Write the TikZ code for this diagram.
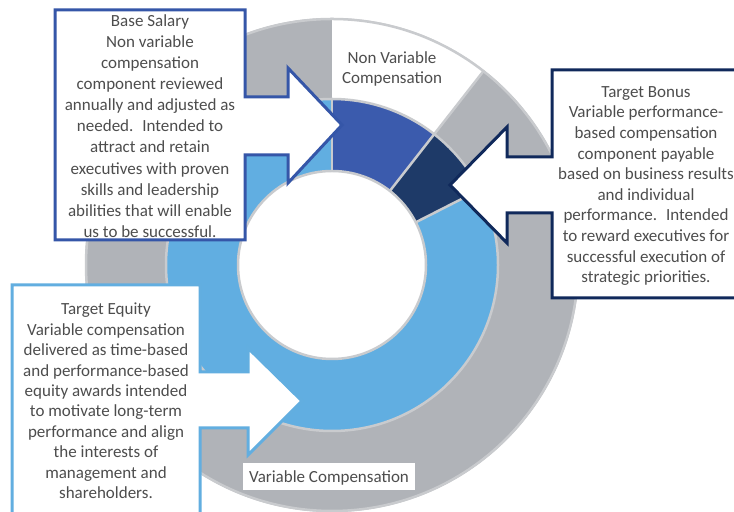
\documentclass[tikz,border=0pt]{standalone}
\usepackage{fontspec}
\setmainfont{Carlito}
\usetikzlibrary{calc}
\definecolor{ringgrey}{HTML}{B0B3B8}
\definecolor{edgegrey}{HTML}{C9CBCE}
\definecolor{lblue}{HTML}{61AEE1}
\definecolor{rblue}{HTML}{3B5BAD}
\definecolor{navyblue}{HTML}{1E3A68}
\definecolor{txtgrey}{HTML}{4D4D4D}
\definecolor{bsline}{HTML}{3556A8}
\definecolor{tbline}{HTML}{10295B}
\definecolor{teline}{HTML}{62AEE0}
\newcommand{\annsec}[5]{\path[#1] ($(C)+(#4:#3)$) arc[start angle=#4, end angle=#5, radius=#3] -- ($(C)+(#5:#2)$) arc[start angle=#5, end angle=#4, radius=#2] -- cycle;}
\tikzset{
  edge/.style={draw=edgegrey, line width=2.5bp},
  callout/.style={fill=white, line width=3bp, line join=miter},
  txt/.style={text=txtgrey, align=center, inner sep=0pt, font=\fontsize{17bp}{21bp}\selectfont},
}
\begin{document}
\begin{tikzpicture}[x=1bp,y=1bp]
\clip (0,0) rectangle (734,512);
\fill[white] (0,0) rectangle (734,512);
\coordinate (C) at (332,247);
% outer ring
\fill[ringgrey] (C) circle[radius=247];
\annsec{fill=white}{166}{247}{52}{90}
% middle ring
\fill[lblue] (C) circle[radius=166];
\annsec{fill=rblue}{94}{166}{52}{90}
\annsec{fill=navyblue}{94}{166}{27}{52}
\fill[white] (C) circle[radius=94];
% borders
\draw[edge] (C) circle[radius=246];
\draw[edge] (C) circle[radius=166];
\draw[edge] (C) circle[radius=94];
\draw[edge] ($(C)+(90:94)$) -- ($(C)+(90:166)$);
\draw[edge] ($(C)+(52:94)$) -- ($(C)+(52:246)$);
\draw[edge] ($(C)+(27:94)$) -- ($(C)+(27:166)$);
% callouts
\draw[callout, draw=bsline] (55,502) -- (245,502) -- (245,415) -- (288,415) -- (288,444) -- (342,387) -- (288,329) -- (288,357) -- (245,357) -- (245,272) -- (55,272) -- cycle;
\draw[callout, draw=tbline] (760,442) -- (552,442) -- (552,355) -- (507,355) -- (507,385) -- (450,327) -- (507,269) -- (507,299) -- (552,299) -- (552,214) -- (760,214) -- cycle;
\draw[callout, draw=teline] (12,227) -- (200,227) -- (200,140) -- (248,140) -- (248,164) -- (302,111) -- (248,57) -- (248,84) -- (200,84) -- (200,-10) -- (12,-10) -- cycle;
% label box
\fill[white] (243,22) rectangle (415,49);
% texts
\node[txt, font=\fontsize{17bp}{21.1bp}\selectfont] (bs) at (150,386) {Base Salary\\Non variable\\compensation\\component reviewed\\annually and adjusted as\\needed.~ Intended to\\attract and retain\\executives with proven\\skills and leadership\\abilities that will enable\\us to be successful.};
\node[txt, font=\fontsize{17bp}{20.6bp}\selectfont] (tb) at (646,326) {Target Bonus\\Variable performance-\\based compensation\\component payable\\based on business results\\and individual\\performance.~ Intended\\to reward executives for\\successful execution of\\strategic priorities.};
\node[txt, font=\fontsize{17bp}{20.4bp}\selectfont] (te) at (106,111) {Target Equity\\Variable compensation\\delivered as time-based\\and performance-based\\equity awards intended\\to motivate long-term\\performance and align\\the interests of\\management and\\shareholders.};
\node[txt, font=\fontsize{17bp}{20bp}\selectfont] (nv) at (392,443) {Non Variable\\Compensation};
\node[txt] (vc) at (329,34) {Variable Compensation};
\end{tikzpicture}
\end{document}
